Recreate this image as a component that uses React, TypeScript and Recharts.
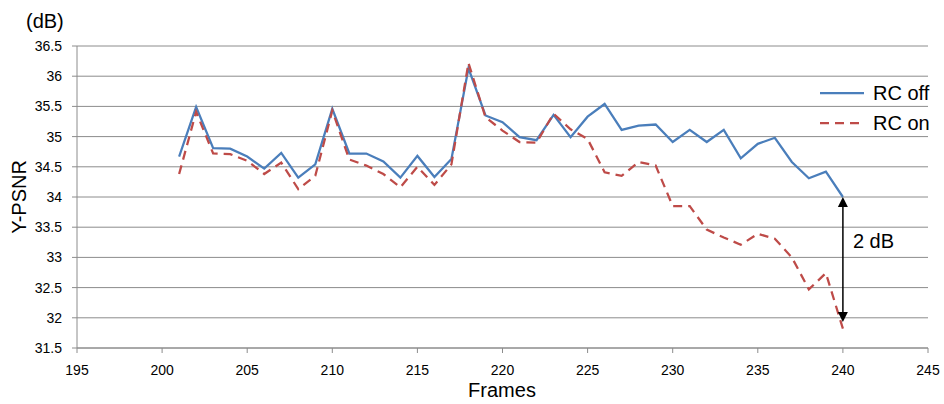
import React from 'react';
import { LineChart, Line, XAxis, YAxis, CartesianGrid, ReferenceLine } from 'recharts';

// frame numbers
const frames = [
  201, 202, 203, 204, 205, 206, 207, 208, 209, 210,
  211, 212, 213, 214, 215, 216, 217, 218, 219, 220,
  221, 222, 223, 224, 225, 226, 227, 228, 229, 230,
  231, 232, 233, 234, 235, 236, 237, 238, 239, 240,
];

// Y-PSNR (dB), rate control off
const rcOff = [
  34.67, 35.49, 34.81, 34.8, 34.67, 34.47, 34.73, 34.32, 34.54, 35.46,
  34.72, 34.72, 34.59, 34.32, 34.68, 34.33, 34.63, 36.13, 35.35, 35.24,
  34.99, 34.94, 35.36, 34.99, 35.33, 35.54, 35.11, 35.18, 35.2, 34.91,
  35.11, 34.91, 35.11, 34.64, 34.88, 34.98, 34.58, 34.31, 34.42, 34.0,
];

// Y-PSNR (dB), rate control on
const rcOn = [
  34.38, 35.41, 34.72, 34.71, 34.6, 34.38, 34.57, 34.13, 34.35, 35.43,
  34.62, 34.52, 34.38, 34.16, 34.5, 34.2, 34.54, 36.22, 35.32, 35.1,
  34.91, 34.9, 35.38, 35.12, 34.96, 34.41, 34.35, 34.58, 34.52, 33.85,
  33.85, 33.46, 33.33, 33.21, 33.39, 33.31, 33.0, 32.47, 32.74, 31.82,
];

const xTicks = [195, 200, 205, 210, 215, 220, 225, 230, 235, 240, 245];
const yTicks = [31.5, 32, 32.5, 33, 33.5, 34, 34.5, 35, 35.5, 36, 36.5];

const seriesNames = ['RC off', 'RC on'];
const arrowFrom = 34.0;
const arrowTo = 31.93;
const arrowLabel = '2 dB';

const BLUE = '#4a7ebb';
const RED = '#be4b48';
const GRID = '#8c8c8c';
const FONT = '"Liberation Sans", Arial, sans-serif';

const data = frames.map((f, i) => ({ frame: f, off: rcOff[i], on: rcOn[i] }));

const tickStyle = { fontSize: 14, fill: '#000', fontFamily: FONT };

function Arrow(props: any) {
  const { x1, y1, x2, y2 } = props;
  const top = Math.min(y1, y2);
  const bot = Math.max(y1, y2);
  const x = (x1 + x2) / 2;
  return (
    <g>
      <line x1={x} y1={top + 8} x2={x} y2={bot - 8} stroke="#000" strokeWidth={1.5} />
      <polygon points={`${x},${top} ${x - 5},${top + 10} ${x + 5},${top + 10}`} fill="#000" />
      <polygon points={`${x},${bot} ${x - 5},${bot - 10} ${x + 5},${bot - 10}`} fill="#000" />
      <text x={x + 10} y={top + 51} fontSize={20} fontFamily={FONT} fill="#000">
        {arrowLabel}
      </text>
    </g>
  );
}

export default function App() {
  return (
    <div style={{ position: 'absolute', left: 0, top: 0, width: 944, height: 404, background: '#fff' }}>
      <LineChart width={944} height={404} data={data} margin={{ top: 46, right: 16, bottom: 0, left: 0 }}>
        <CartesianGrid vertical={false} stroke={GRID} strokeWidth={1} />
        <XAxis
          dataKey="frame"
          type="number"
          domain={[195, 245]}
          ticks={xTicks}
          height={56}
          stroke={GRID}
          tickSize={5}
          tickMargin={12}
          tick={tickStyle}
          interval={0}
          label={{
            content: () => (
              <text x={502} y={397} textAnchor="middle" fontSize={20} fontFamily={FONT} fill="#000">
                Frames
              </text>
            ),
          }}
        />
        <YAxis
          type="number"
          domain={[31.5, 36.5]}
          ticks={yTicks}
          width={77}
          stroke={GRID}
          tickSize={5}
          tickMargin={10}
          tick={tickStyle}
          interval={0}
          label={{
            content: (p: any) => {
              const vb = p.viewBox || { y: 46, height: 302 };
              const cy = vb.y + vb.height / 2;
              return (
                <g>
                  <text
                    x={26}
                    y={cy}
                    transform={`rotate(-90, 26, ${cy})`}
                    textAnchor="middle"
                    fontSize={20}
                    fontFamily={FONT}
                    fill="#000"
                  >
                    Y-PSNR
                  </text>
                  <text x={26} y={28} fontSize={20} fontFamily={FONT} fill="#000">
                    (dB)
                  </text>
                </g>
              );
            },
          }}
        />
        <Line
          type="linear"
          dataKey="off"
          name={seriesNames[0]}
          stroke={BLUE}
          strokeWidth={2.25}
          dot={false}
          isAnimationActive={false}
        />
        <Line
          type="linear"
          dataKey="on"
          name={seriesNames[1]}
          stroke={RED}
          strokeWidth={2.25}
          strokeDasharray="9 6"
          dot={false}
          isAnimationActive={false}
        />
        <ReferenceLine
          segment={[
            { x: frames[frames.length - 1], y: arrowFrom },
            { x: frames[frames.length - 1], y: arrowTo },
          ]}
          shape={Arrow}
        />
      </LineChart>
      <div style={{ position: 'absolute', left: 818, top: 78, fontFamily: FONT, fontSize: 20, color: '#000' }}>
        {seriesNames.map((name, i) => (
          <div key={name} style={{ display: 'flex', alignItems: 'center', height: 30 }}>
            <svg width={55} height={10} style={{ display: 'block' }}>
              <line
                x1={2}
                y1={5}
                x2={46}
                y2={5}
                stroke={i === 0 ? BLUE : RED}
                strokeWidth={2.25}
                strokeDasharray={i === 0 ? undefined : '9 6'}
              />
            </svg>
            <span style={{ lineHeight: '20px' }}>{name}</span>
          </div>
        ))}
      </div>
    </div>
  );
}
